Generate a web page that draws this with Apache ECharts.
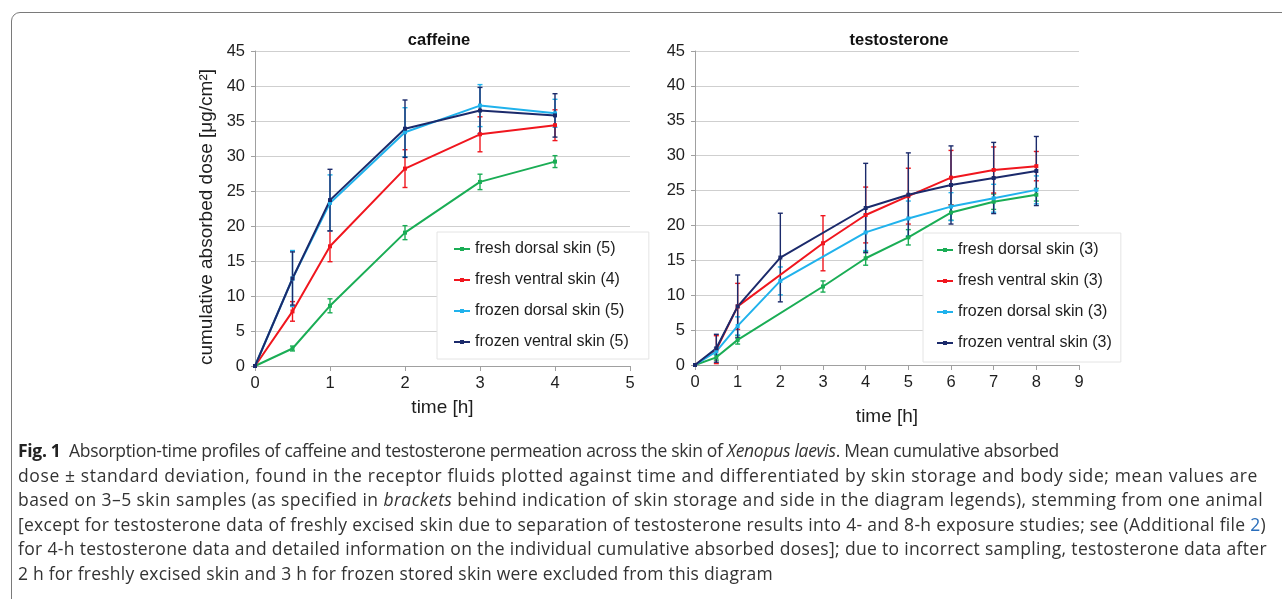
<!DOCTYPE html>
<html>
<head>
<meta charset="utf-8">
<script src="https://cdn.jsdelivr.net/npm/echarts@6/dist/echarts.min.js"></script>
<style>
html,body{margin:0;padding:0;background:#fff;width:1282px;height:599px;overflow:hidden;}
#frame{position:absolute;left:11px;top:12px;width:1300px;height:620px;border:1.5px solid #7a7a7a;border-radius:9px;box-sizing:border-box;}
#chart{position:absolute;left:0;top:0;width:1282px;height:440px;}
#caption{position:absolute;left:18px;top:438px;font-family:"Open Sans",sans-serif;font-size:17.5px;color:#333;}
#caption .ln{display:block;white-space:nowrap;height:24.6px;line-height:24.6px;}
#caption .ln span.t{display:inline-block;}
#caption b{color:#222;}
#caption .lk{color:#2a6ebb;}
</style>
</head>
<body>
<div id="frame"></div>
<div id="chart"></div>
<div id="caption">
<div class="ln"><span class="t" data-w="1041"><b>Fig. 1</b>&nbsp;&nbsp;Absorption-time profiles of caffeine and testosterone permeation across the skin of <i>Xenopus laevis</i>. Mean cumulative absorbed</span></div>
<div class="ln"><span class="t" data-w="1240">dose ± standard deviation, found in the receptor fluids plotted against time and differentiated by skin storage and body side; mean values are</span></div>
<div class="ln"><span class="t" data-w="1245">based on 3–5 skin samples (as specified in <i>brackets</i> behind indication of skin storage and side in the diagram legends), stemming from one animal</span></div>
<div class="ln"><span class="t" data-w="1248">[except for testosterone data of freshly excised skin due to separation of testosterone results into 4- and 8-h exposure studies; see (Additional file <span class="lk">2</span>)</span></div>
<div class="ln"><span class="t" data-w="1249">for 4-h testosterone data and detailed information on the individual cumulative absorbed doses]; due to incorrect sampling, testosterone data after</span></div>
<div class="ln"><span class="t" data-w="755">2 h for freshly excised skin and 3 h for frozen stored skin were excluded from this diagram</span></div>
</div>
<script>
// ---------- DATA ----------
const seriesLabels = ['fresh dorsal skin', 'fresh ventral skin', 'frozen dorsal skin', 'frozen ventral skin'];
const seriesColors = ['#1aad55', '#f0161e', '#20b2ec', '#1b2a6b'];

// caffeine
const cafTimes = [0, 0.5, 1, 2, 3, 4];
const cafN = [5, 4, 5, 5];
const cafFreshDorsal   = [0, 2.5, 8.6, 19.05, 26.3, 29.2];
const cafFreshDorsalSD = [0, 0.35, 1.0, 1.0, 1.1, 0.85];
const cafFreshVentral   = [0, 7.8, 17.1, 28.2, 33.1, 34.4];
const cafFreshVentralSD = [0, 1.4, 2.2, 2.7, 2.5, 2.2];
const cafFrozenDorsal   = [0, 12.5, 23.3, 33.4, 37.2, 36.1];
const cafFrozenDorsalSD = [0, 4.0, 4.0, 3.5, 3.0, 2.0];
const cafFrozenVentral   = [0, 12.5, 23.7, 33.9, 36.5, 35.8];
const cafFrozenVentralSD = [0, 3.8, 4.4, 4.1, 3.3, 3.1];

// testosterone (null = excluded time point)
const testTimes = [0, 0.5, 1, 2, 3, 4, 5, 6, 7, 8];
const testN = [3, 3, 3, 3];
const testFreshDorsal   = [0, 1.1, 3.6, null, 11.25, 15.3, 18.3, 21.85, 23.4, 24.4];
const testFreshDorsalSD = [0, 0.4, 0.6, null, 0.8, 1.0, 1.1, 1.1, 1.1, 0.9];
const testFreshVentral   = [0, 2.2, 8.4, null, 17.45, 21.5, 24.2, 26.85, 27.95, 28.5];
const testFreshVentralSD = [0, 2.0, 3.3, null, 3.95, 4.0, 4.0, 3.9, 3.3, 2.1];
const testFrozenDorsal   = [0, 1.95, 5.6, 12.05, null, 19.0, 21.0, 22.7, 23.9, 25.1];
const testFrozenDorsalSD = [0, 0.5, 1.3, 2.0, null, 2.6, 2.5, 2.0, 2.0, 2.0];
const testFrozenVentral   = [0, 2.4, 8.4, 15.4, null, 22.5, 24.4, 25.8, 26.8, 27.8];
const testFrozenVentralSD = [0, 2.0, 4.5, 6.35, null, 6.4, 6.0, 5.6, 5.1, 4.95];

const yTicks = { min: 0, max: 45, interval: 5 };
const cafXTicks = { min: 0, max: 5, interval: 1 };
const testXTicks = { min: 0, max: 9, interval: 1 };

// ---------- BUILD ----------
const FONT = 'Liberation Sans, Arial, sans-serif';
const chart = echarts.init(document.getElementById('chart'), null, { renderer: 'canvas' });

function pts(times, vals) {
  const out = [];
  times.forEach((t, i) => { if (vals[i] !== null) out.push([t, vals[i]]); });
  return out;
}
function errs(times, vals, sds) {
  const out = [];
  times.forEach((t, i) => { if (vals[i] !== null && sds[i] > 0) out.push([t, vals[i] - sds[i], vals[i] + sds[i]]); });
  return out;
}
function errorRenderer(color) {
  return function (params, api) {
    const x = api.value(0);
    const lo = api.coord([x, api.value(1)]);
    const hi = api.coord([x, api.value(2)]);
    const cw = 2.5;
    const st = { stroke: color, lineWidth: 1.4 };
    return {
      type: 'group',
      children: [
        { type: 'line', shape: { x1: lo[0], y1: lo[1], x2: hi[0], y2: hi[1] }, style: st },
        { type: 'line', shape: { x1: lo[0] - cw, y1: lo[1], x2: lo[0] + cw, y2: lo[1] }, style: st },
        { type: 'line', shape: { x1: hi[0] - cw, y1: hi[1], x2: hi[0] + cw, y2: hi[1] }, style: st }
      ]
    };
  };
}

const cafSets = [
  [cafFreshDorsal, cafFreshDorsalSD], [cafFreshVentral, cafFreshVentralSD],
  [cafFrozenDorsal, cafFrozenDorsalSD], [cafFrozenVentral, cafFrozenVentralSD]
];
const testSets = [
  [testFreshDorsal, testFreshDorsalSD], [testFreshVentral, testFreshVentralSD],
  [testFrozenDorsal, testFrozenDorsalSD], [testFrozenVentral, testFrozenVentralSD]
];

const series = [];
const cafNames = seriesLabels.map((l, i) => l + ' (' + cafN[i] + ')');
const testNames = seriesLabels.map((l, i) => l + ' (' + testN[i] + ')');

function addSeries(names, sets, times, idx) {
  sets.forEach((s, i) => {
    series.push({
      type: 'custom', xAxisIndex: idx, yAxisIndex: idx, z: 3,
      renderItem: errorRenderer(seriesColors[i]),
      data: errs(times, s[0], s[1]), silent: true
    });
  });
  sets.forEach((s, i) => {
    series.push({
      name: names[i], type: 'line', xAxisIndex: idx, yAxisIndex: idx, z: 4,
      data: pts(times, s[0]),
      symbol: 'rect', symbolSize: 4, showSymbol: true,
      lineStyle: { color: seriesColors[i], width: 2 },
      itemStyle: { color: seriesColors[i] },
      animation: false
    });
  });
}
addSeries(cafNames, cafSets, cafTimes, 0);
addSeries(testNames, testSets, testTimes, 1);

const axisLineStyle = { lineStyle: { color: '#a0a0a0', width: 1 } };
const tickStyle = { show: true, length: 5, lineStyle: { color: '#a0a0a0' } };
const labelStyle = { color: '#1e1e1e', fontSize: 16.5, fontFamily: FONT };

function xAxis(idx, ticks, gap) {
  return {
    type: 'value', gridIndex: idx, min: ticks.min, max: ticks.max, interval: ticks.interval,
    name: 'time [h]', nameLocation: 'middle', nameGap: gap,
    nameTextStyle: { color: '#1e1e1e', fontSize: 19, fontFamily: FONT },
    axisLine: axisLineStyle, axisTick: tickStyle,
    axisLabel: Object.assign({ margin: 9 }, labelStyle),
    splitLine: { show: false }
  };
}
function yAxis(idx, withName) {
  const a = {
    type: 'value', gridIndex: idx, min: yTicks.min, max: yTicks.max, interval: yTicks.interval,
    axisLine: { show: true, lineStyle: { color: '#a0a0a0', width: 1 } },
    axisTick: { show: true, length: 4, lineStyle: { color: '#a0a0a0' } },
    axisLabel: Object.assign({ margin: 10 }, labelStyle),
    splitLine: { show: true, lineStyle: { color: '#cfcfcf', width: 1 } }
  };
  if (withName) {
    a.name = 'cumulative absorbed dose [μg/cm²]';
    a.nameLocation = 'middle';
    a.nameGap = 39;
    a.nameTextStyle = { color: '#1e1e1e', fontSize: 19, fontFamily: FONT, padding: [0, 17, 0, 0] };
  }
  return a;
}
function legend(names, left, top, padding) {
  return {
    data: names, orient: 'vertical', left: left, top: top, padding: padding,
    itemWidth: 16, itemHeight: 5, itemGap: 15,
    backgroundColor: '#fff', borderColor: '#e4e4e4', borderWidth: 1,
    textStyle: { color: '#1e1e1e', fontSize: 16, fontFamily: FONT },
    selectedMode: false
  };
}

chart.setOption({
  animation: false,
  backgroundColor: 'transparent',
  title: [
    { text: 'caffeine', left: 434, top: 27, textAlign: 'center', textStyle: { fontSize: 16.5, fontWeight: 'bold', color: '#111', fontFamily: FONT } },
    { text: 'testosterone', left: 894, top: 27, textAlign: 'center', textStyle: { fontSize: 16.5, fontWeight: 'bold', color: '#111', fontFamily: FONT } }
  ],
  grid: [
    { left: 255, top: 51, width: 375, height: 315 },
    { left: 695, top: 51, width: 384, height: 314 }
  ],
  xAxis: [xAxis(0, cafXTicks, 32), xAxis(1, testXTicks, 42)],
  yAxis: [yAxis(0, true), yAxis(1, false)],
  legend: [
    legend(cafNames, 437, 232, [9, 20, 9, 16]),
    legend(testNames, 923, 233, [9, 9, 11, 13])
  ],
  series: series
});

// fit caption lines to measured widths
function fitCaption() {
  document.querySelectorAll('#caption span.t').forEach(el => {
    el.style.letterSpacing = '0px';
    const target = parseFloat(el.dataset.w);
    const w = el.getBoundingClientRect().width;
    const n = el.textContent.length;
    el.style.letterSpacing = ((target - w) / n).toFixed(3) + 'px';
  });
}
if (document.fonts && document.fonts.ready) { document.fonts.ready.then(fitCaption); } else { fitCaption(); }
fitCaption();
</script>
</body>
</html>
